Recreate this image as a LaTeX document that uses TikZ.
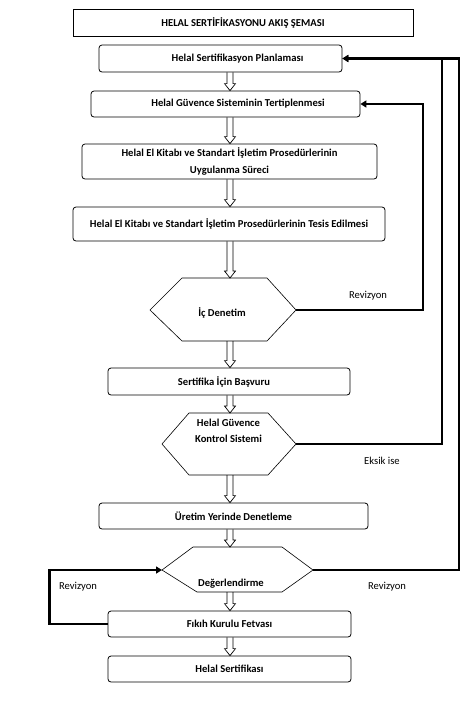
\documentclass[tikz,border=0pt]{standalone}
\usepackage{fontspec}
\setmainfont{Carlito}
\usetikzlibrary{arrows.meta,calc}
\newcommand{\blockarrow}[2]{%
  \draw[blk] let \p1=#1, \p2=#2 in
   (\x1-3pt,\y1) -- (\x1-3pt,\y2+7pt) -- (\x1-5.5pt,\y2+7pt) -- (\x1,\y2)
   -- (\x1+5.5pt,\y2+7pt) -- (\x1+3pt,\y2+7pt) -- (\x1+3pt,\y1);}
\begin{document}
\begin{tikzpicture}[x=1pt,y=-1pt,
  boxfont/.style={font=\bfseries\fontsize{10.6}{12}\selectfont},
  box/.style={draw, line width=0.8pt, rounded corners=3pt, inner sep=0pt, boxfont, align=center},
  hexline/.style={draw, line width=0.6pt},
  txt/.style={inner sep=0pt, boxfont, align=center},
  lbl/.style={inner sep=0pt, font=\fontsize{10.6}{12}\selectfont},
  fb/.style={line width=2.6pt, -{Triangle[length=6pt,width=7pt]}},
  blk/.style={line width=0.7pt}]
\useasboundingbox (0,0) rectangle (476,713);
\fill[white] (0,0) rectangle (476,713);
\coordinate (axis) at (230,0);

% title
\node[draw, line width=0.8pt, inner sep=0pt, minimum width=340pt, minimum height=27pt, boxfont] (title) at (243,22.5) {HELAL SERTİFİKASYONU AKIŞ ŞEMASI};

% boxes
\node[box, minimum width=243pt, minimum height=27pt] (b1) at (220.5,58.5) {\hspace*{34pt}Helal Sertifikasyon Planlaması};
\node[box, minimum width=269pt, minimum height=26pt] (b2) at (225.5,104) {\hspace*{25pt}Helal Güvence Sisteminin Tertiplenmesi};
\node[box, minimum width=295pt, minimum height=35pt, font=\bfseries\fontsize{10.6}{17}\selectfont] (b3) at (229.5,161.5) {Helal El Kitabı ve Standart İşletim Prosedürlerinin\\Uygulanma Süreci};
\node[box, minimum width=312pt, minimum height=34pt] (b4) at (229,224) {Helal El Kitabı ve Standart İşletim Prosedürlerinin Tesis Edilmesi};
\node[box, minimum width=242pt, minimum height=27pt] (b5) at (229,381.5) {\hspace*{-10pt}Sertifika İçin Başvuru};
\node[box, minimum width=269pt, minimum height=26pt] (b6) at (233.5,516) {Üretim Yerinde Denetleme};
\node[box, minimum width=243pt, minimum height=26pt] (b7) at (229.5,624) {Fıkıh Kurulu Fetvası};
\node[box, minimum width=243pt, minimum height=26pt] (b8) at (229.5,669) {Helal Sertifikası};

% hexagon 1
\coordinate (h1w) at (150,310); \coordinate (h1e) at (296,310);
\coordinate (h1n) at (230,278); \coordinate (h1s) at (230,341);
\draw[hexline] (h1w) -- (182,278) -- (267,278) -- (h1e) -- (267,341) -- (182,341) -- cycle;
\node[txt] (t1) at (222,313) {İç Denetim};

% hexagon 2
\coordinate (h2w) at (162,444); \coordinate (h2e) at (296,444);
\coordinate (h2n) at (230,413); \coordinate (h2s) at (230,475);
\draw[hexline] (h2w) -- (189,413) -- (268,413) -- (h2e) -- (268,475) -- (189,475) -- cycle;
\node[txt, font=\bfseries\fontsize{10.6}{16}\selectfont] (t2) at (228.5,431) {Helal Güvence\\Kontrol Sistemi};

% hexagon 3
\coordinate (h3w) at (162,570); \coordinate (h3e) at (313,570);
\coordinate (h3n) at (230,547); \coordinate (h3s) at (230,592);
\draw[hexline] (h3w) -- (193,547) -- (282,547) -- (h3e) -- (282,592) -- (197,592) -- cycle;
\node[txt] (t3) at (231,584) {Değerlendirme};

% block arrows
\blockarrow{(b1.south -| axis)}{(b2.north -| axis)}
\blockarrow{(b2.south -| axis)}{(b3.north -| axis)}
\blockarrow{(b3.south -| axis)}{(b4.north -| axis)}
\blockarrow{(b4.south -| axis)}{(h1n)}
\blockarrow{(h1s)}{(b5.north -| axis)}
\blockarrow{(b5.south -| axis)}{(h2n)}
\blockarrow{(h2s)}{(b6.north -| axis)}
\blockarrow{(b6.south -| axis)}{(h3n)}
\blockarrow{(h3s)}{(b7.north -| axis)}
\blockarrow{(b7.south -| axis)}{(b8.north -| axis)}

% feedback lines
\draw[fb] (h1e) -- ++(127,0) |- (b2.east);
\draw[fb] (h2e) -- ++(146,0) |- (b1.east);
\draw[fb] (h3e) -- ++(146,0) |- (b1.east);
\draw[fb] (b7.west) -- ++(-58,0) |- (h3w);

% labels
\node[lbl] (r1) at (368,296) {Revizyon};
\node[lbl] (ek) at (382,461) {Eksik ise};
\node[lbl] (r2) at (387,587) {Revizyon};
\node[lbl] (r3) at (78,587) {Revizyon};
\end{tikzpicture}
\end{document}
